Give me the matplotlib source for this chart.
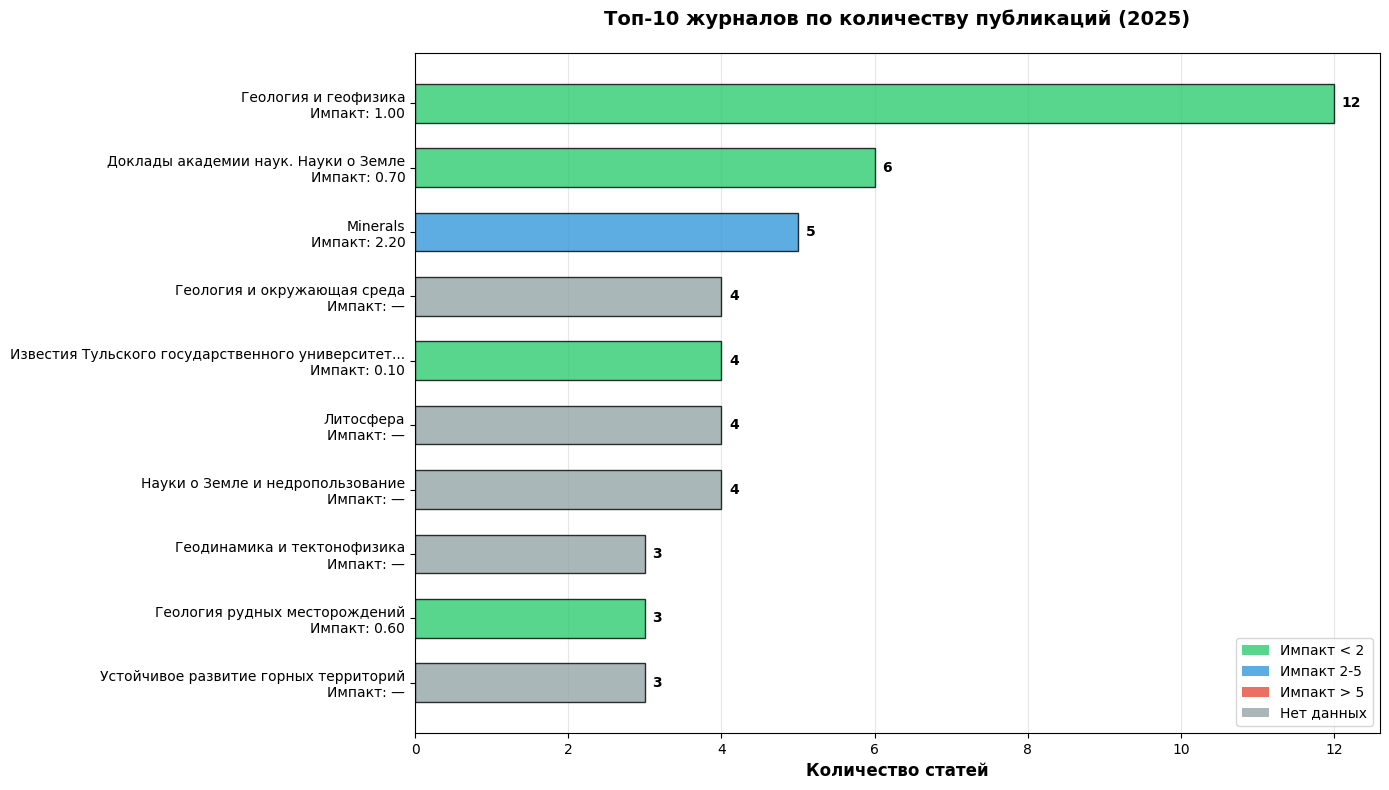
import numpy as np
import matplotlib.pyplot as plt
from matplotlib.patches import Patch

# Journal data (top to bottom)
journals = [
    'Геология и геофизика',
    'Доклады академии наук. Науки о Земле',
    'Minerals',
    'Геология и окружающая среда',
    'Известия Тульского государственного университет...',
    'Литосфера',
    'Науки о Земле и недропользование',
    'Геодинамика и тектонофизика',
    'Геология рудных месторождений',
    'Устойчивое развитие горных территорий',
]
counts = [12, 6, 5, 4, 4, 4, 4, 3, 3, 3]
impacts = [1.00, 0.70, 2.20, None, 0.10, None, None, None, 0.60, None]


def impact_color(imp):
    if imp is None:
        return '#95a5a6'
    if imp < 2:
        return '#2ecc71'
    if imp <= 5:
        return '#3498db'
    return '#e74c3c'


labels = [f'{j}\nИмпакт: {imp:.2f}' if imp is not None else f'{j}\nИмпакт: —'
          for j, imp in zip(journals, impacts)]
colors = [impact_color(i) for i in impacts]

fig, ax = plt.subplots(figsize=(13.89, 7.9), dpi=100)
y = np.arange(len(journals))
bars = ax.barh(y, counts, height=0.6, color=colors, alpha=0.8,
               edgecolor='black', linewidth=1)
ax.set_yticks(y)
ax.set_yticklabels(labels, fontsize=10)
ax.invert_yaxis()

for bar, c in zip(bars, counts):
    ax.text(bar.get_width() + 0.1, bar.get_y() + bar.get_height() / 2, str(c),
            va='center', ha='left', fontsize=10, fontweight='bold')

ax.set_xlim(0, max(counts) * 1.05)
ax.set_xlabel('Количество статей', fontsize=12, fontweight='bold')
ax.set_title('Топ-10 журналов по количеству публикаций (2025)',
             fontsize=14, fontweight='bold', pad=20)
ax.grid(axis='x', alpha=0.3)
ax.set_axisbelow(True)

legend_items = [
    Patch(facecolor='#2ecc71', alpha=0.8, label='Импакт < 2'),
    Patch(facecolor='#3498db', alpha=0.8, label='Импакт 2-5'),
    Patch(facecolor='#e74c3c', alpha=0.8, label='Импакт > 5'),
    Patch(facecolor='#95a5a6', alpha=0.8, label='Нет данных'),
]
ax.legend(handles=legend_items, loc='lower right', fontsize=10)

fig.subplots_adjust(left=0.2988, right=0.9935, top=0.9329, bottom=0.0722)
plt.savefig('out.png', dpi=100)
